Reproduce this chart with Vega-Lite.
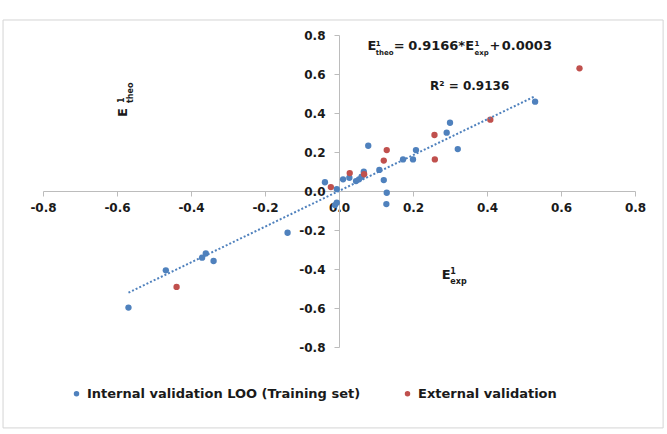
{
  "$schema": "https://vega.github.io/schema/vega-lite/v6.json",
  "width": 592,
  "height": 312,
  "autosize": "none",
  "padding": {"left": 43, "top": 35, "right": 32, "bottom": 87},
  "background": "white",
  "config": {
    "view": {"stroke": null},
    "font": "DejaVu Sans",
    "text": {"font": "DejaVu Sans", "fontWeight": "bold", "color": "#1a1a1a"},
    "axis": {
      "grid": false, "domainColor": "#bcbcbc", "tickColor": "#bcbcbc", "tickSize": 5,
      "tickCount": 8, "labelOverlap": false, "labelFlush": false,
      "labelExpr": "replace(format(datum.value, '.1f'), '\u2212', '-')",
      "labelFont": "DejaVu Sans", "labelFontSize": 12, "labelFontWeight": "bold",
      "labelColor": "#1a1a1a", "titleOpacity": 0
    },
    "axisX": {"offset": -156, "labelPadding": 6},
    "axisY": {"offset": -296, "labelPadding": 9}
  },
  "data": {"values": [{}]},
  "datasets": {
    "points": [
      {"exp": -0.569, "theo": -0.598, "set": "Internal validation LOO (Training set)"},
      {"exp": -0.468, "theo": -0.407, "set": "Internal validation LOO (Training set)"},
      {"exp": -0.370, "theo": -0.342, "set": "Internal validation LOO (Training set)"},
      {"exp": -0.360, "theo": -0.320, "set": "Internal validation LOO (Training set)"},
      {"exp": -0.339, "theo": -0.359, "set": "Internal validation LOO (Training set)"},
      {"exp": -0.139, "theo": -0.214, "set": "Internal validation LOO (Training set)"},
      {"exp": -0.038, "theo": 0.045, "set": "Internal validation LOO (Training set)"},
      {"exp": -0.006, "theo": 0.010, "set": "Internal validation LOO (Training set)"},
      {"exp": -0.011, "theo": -0.072, "set": "Internal validation LOO (Training set)"},
      {"exp": -0.006, "theo": -0.060, "set": "Internal validation LOO (Training set)"},
      {"exp": 0.011, "theo": 0.060, "set": "Internal validation LOO (Training set)"},
      {"exp": 0.028, "theo": 0.068, "set": "Internal validation LOO (Training set)"},
      {"exp": 0.046, "theo": 0.051, "set": "Internal validation LOO (Training set)"},
      {"exp": 0.054, "theo": 0.060, "set": "Internal validation LOO (Training set)"},
      {"exp": 0.061, "theo": 0.073, "set": "Internal validation LOO (Training set)"},
      {"exp": 0.067, "theo": 0.099, "set": "Internal validation LOO (Training set)"},
      {"exp": 0.079, "theo": 0.232, "set": "Internal validation LOO (Training set)"},
      {"exp": 0.109, "theo": 0.108, "set": "Internal validation LOO (Training set)"},
      {"exp": 0.121, "theo": 0.056, "set": "Internal validation LOO (Training set)"},
      {"exp": 0.129, "theo": -0.009, "set": "Internal validation LOO (Training set)"},
      {"exp": 0.128, "theo": -0.067, "set": "Internal validation LOO (Training set)"},
      {"exp": 0.173, "theo": 0.162, "set": "Internal validation LOO (Training set)"},
      {"exp": 0.200, "theo": 0.162, "set": "Internal validation LOO (Training set)"},
      {"exp": 0.208, "theo": 0.210, "set": "Internal validation LOO (Training set)"},
      {"exp": 0.291, "theo": 0.299, "set": "Internal validation LOO (Training set)"},
      {"exp": 0.300, "theo": 0.350, "set": "Internal validation LOO (Training set)"},
      {"exp": 0.321, "theo": 0.215, "set": "Internal validation LOO (Training set)"},
      {"exp": 0.530, "theo": 0.458, "set": "Internal validation LOO (Training set)"},
      {"exp": -0.439, "theo": -0.492, "set": "External validation"},
      {"exp": -0.022, "theo": 0.020, "set": "External validation"},
      {"exp": 0.029, "theo": 0.092, "set": "External validation"},
      {"exp": 0.068, "theo": 0.086, "set": "External validation"},
      {"exp": 0.121, "theo": 0.156, "set": "External validation"},
      {"exp": 0.129, "theo": 0.210, "set": "External validation"},
      {"exp": 0.258, "theo": 0.287, "set": "External validation"},
      {"exp": 0.259, "theo": 0.162, "set": "External validation"},
      {"exp": 0.409, "theo": 0.366, "set": "External validation"},
      {"exp": 0.650, "theo": 0.629, "set": "External validation"}
    ],
    "trend": [
      {"exp": -0.569, "theo": -0.5213},
      {"exp": 0.530, "theo": 0.4861}
    ]
  },
  "layer": [
    {
      "data": {"name": "points"},
      "mark": {"type": "circle", "size": 40, "opacity": 1},
      "encoding": {
        "x": {"field": "exp", "type": "quantitative", "title": null, "scale": {"domain": [-0.8, 0.8], "nice": false, "zero": false}},
        "y": {"field": "theo", "type": "quantitative", "title": null, "scale": {"domain": [-0.8, 0.8], "nice": false, "zero": false}},
        "color": {
          "field": "set", "type": "nominal",
          "scale": {"domain": ["Internal validation LOO (Training set)", "External validation"], "range": ["#4f81bd", "#c0504d"]},
          "legend": {
            "title": null, "orient": "none", "legendX": 27, "legendY": 352,
            "direction": "horizontal", "symbolType": "circle", "symbolSize": 30,
            "symbolStrokeWidth": 0, "labelOffset": 4, "columnPadding": 40,
            "labelFont": "DejaVu Sans", "labelFontSize": 13, "labelFontWeight": "bold",
            "labelColor": "#1a1a1a", "labelLimit": 400
          }
        }
      }
    },
    {
      "mark": {"type": "rect", "fillOpacity": 0, "stroke": "#d4d4d4", "strokeWidth": 1, "clip": false},
      "encoding": {
        "x": {"datum": -0.908, "type": "quantitative", "title": null},
        "x2": {"datum": 0.876},
        "y": {"datum": 0.877, "type": "quantitative", "title": null},
        "y2": {"datum": -1.215}
      }
    },
    {
      "data": {"name": "trend"},
      "mark": {"type": "line", "color": "#4f81bd", "strokeWidth": 2, "strokeDash": [2, 2]},
      "encoding": {
        "x": {"field": "exp", "type": "quantitative", "title": null},
        "y": {"field": "theo", "type": "quantitative", "title": null}
      }
    },
    {
      "mark": {"type": "text", "text": "E", "fontSize": 13, "align": "left", "baseline": "alphabetic"},
      "encoding": {"x": {"datum": 0.077, "type": "quantitative", "title": null}, "y": {"datum": 0.723, "type": "quantitative", "title": null}}
    },
    {
      "mark": {"type": "text", "text": "1", "fontSize": 7, "align": "left", "baseline": "alphabetic"},
      "encoding": {"x": {"datum": 0.099, "type": "quantitative", "title": null}, "y": {"datum": 0.744, "type": "quantitative", "title": null}}
    },
    {
      "mark": {"type": "text", "text": "theo", "fontSize": 7, "align": "left", "baseline": "alphabetic"},
      "encoding": {"x": {"datum": 0.099, "type": "quantitative", "title": null}, "y": {"datum": 0.697, "type": "quantitative", "title": null}}
    },
    {
      "mark": {"type": "text", "text": "=", "fontSize": 13, "align": "left", "baseline": "alphabetic"},
      "encoding": {"x": {"datum": 0.148, "type": "quantitative", "title": null}, "y": {"datum": 0.723, "type": "quantitative", "title": null}}
    },
    {
      "mark": {"type": "text", "text": "0.9166*E", "fontSize": 13, "align": "left", "baseline": "alphabetic"},
      "encoding": {"x": {"datum": 0.187, "type": "quantitative", "title": null}, "y": {"datum": 0.723, "type": "quantitative", "title": null}}
    },
    {
      "mark": {"type": "text", "text": "1", "fontSize": 7, "align": "left", "baseline": "alphabetic"},
      "encoding": {"x": {"datum": 0.366, "type": "quantitative", "title": null}, "y": {"datum": 0.744, "type": "quantitative", "title": null}}
    },
    {
      "mark": {"type": "text", "text": "exp", "fontSize": 7, "align": "left", "baseline": "alphabetic"},
      "encoding": {"x": {"datum": 0.366, "type": "quantitative", "title": null}, "y": {"datum": 0.697, "type": "quantitative", "title": null}}
    },
    {
      "mark": {"type": "text", "text": "+", "fontSize": 13, "align": "left", "baseline": "alphabetic"},
      "encoding": {"x": {"datum": 0.407, "type": "quantitative", "title": null}, "y": {"datum": 0.723, "type": "quantitative", "title": null}}
    },
    {
      "mark": {"type": "text", "text": "0.0003", "fontSize": 13, "align": "left", "baseline": "alphabetic"},
      "encoding": {"x": {"datum": 0.440, "type": "quantitative", "title": null}, "y": {"datum": 0.723, "type": "quantitative", "title": null}}
    },
    {
      "mark": {"type": "text", "text": "R² = 0.9136", "fontSize": 12, "align": "left", "baseline": "alphabetic"},
      "encoding": {"x": {"datum": 0.246, "type": "quantitative", "title": null}, "y": {"datum": 0.518, "type": "quantitative", "title": null}}
    },
    {
      "mark": {"type": "text", "text": "E", "fontSize": 13, "align": "left", "baseline": "alphabetic", "angle": 270},
      "encoding": {"x": {"datum": -0.573, "type": "quantitative", "title": null}, "y": {"datum": 0.379, "type": "quantitative", "title": null}}
    },
    {
      "mark": {"type": "text", "text": "1", "fontSize": 8, "align": "left", "baseline": "alphabetic", "angle": 270},
      "encoding": {"x": {"datum": -0.581, "type": "quantitative", "title": null}, "y": {"datum": 0.451, "type": "quantitative", "title": null}}
    },
    {
      "mark": {"type": "text", "text": "theo", "fontSize": 8, "align": "left", "baseline": "alphabetic", "angle": 270},
      "encoding": {"x": {"datum": -0.557, "type": "quantitative", "title": null}, "y": {"datum": 0.451, "type": "quantitative", "title": null}}
    },
    {
      "mark": {"type": "text", "text": "E", "fontSize": 13, "align": "left", "baseline": "alphabetic"},
      "encoding": {"x": {"datum": 0.278, "type": "quantitative", "title": null}, "y": {"datum": -0.453, "type": "quantitative", "title": null}}
    },
    {
      "mark": {"type": "text", "text": "1", "fontSize": 8, "align": "left", "baseline": "alphabetic"},
      "encoding": {"x": {"datum": 0.301, "type": "quantitative", "title": null}, "y": {"datum": -0.426, "type": "quantitative", "title": null}}
    },
    {
      "mark": {"type": "text", "text": "exp", "fontSize": 8, "align": "left", "baseline": "alphabetic"},
      "encoding": {"x": {"datum": 0.301, "type": "quantitative", "title": null}, "y": {"datum": -0.477, "type": "quantitative", "title": null}}
    }
  ]
}
